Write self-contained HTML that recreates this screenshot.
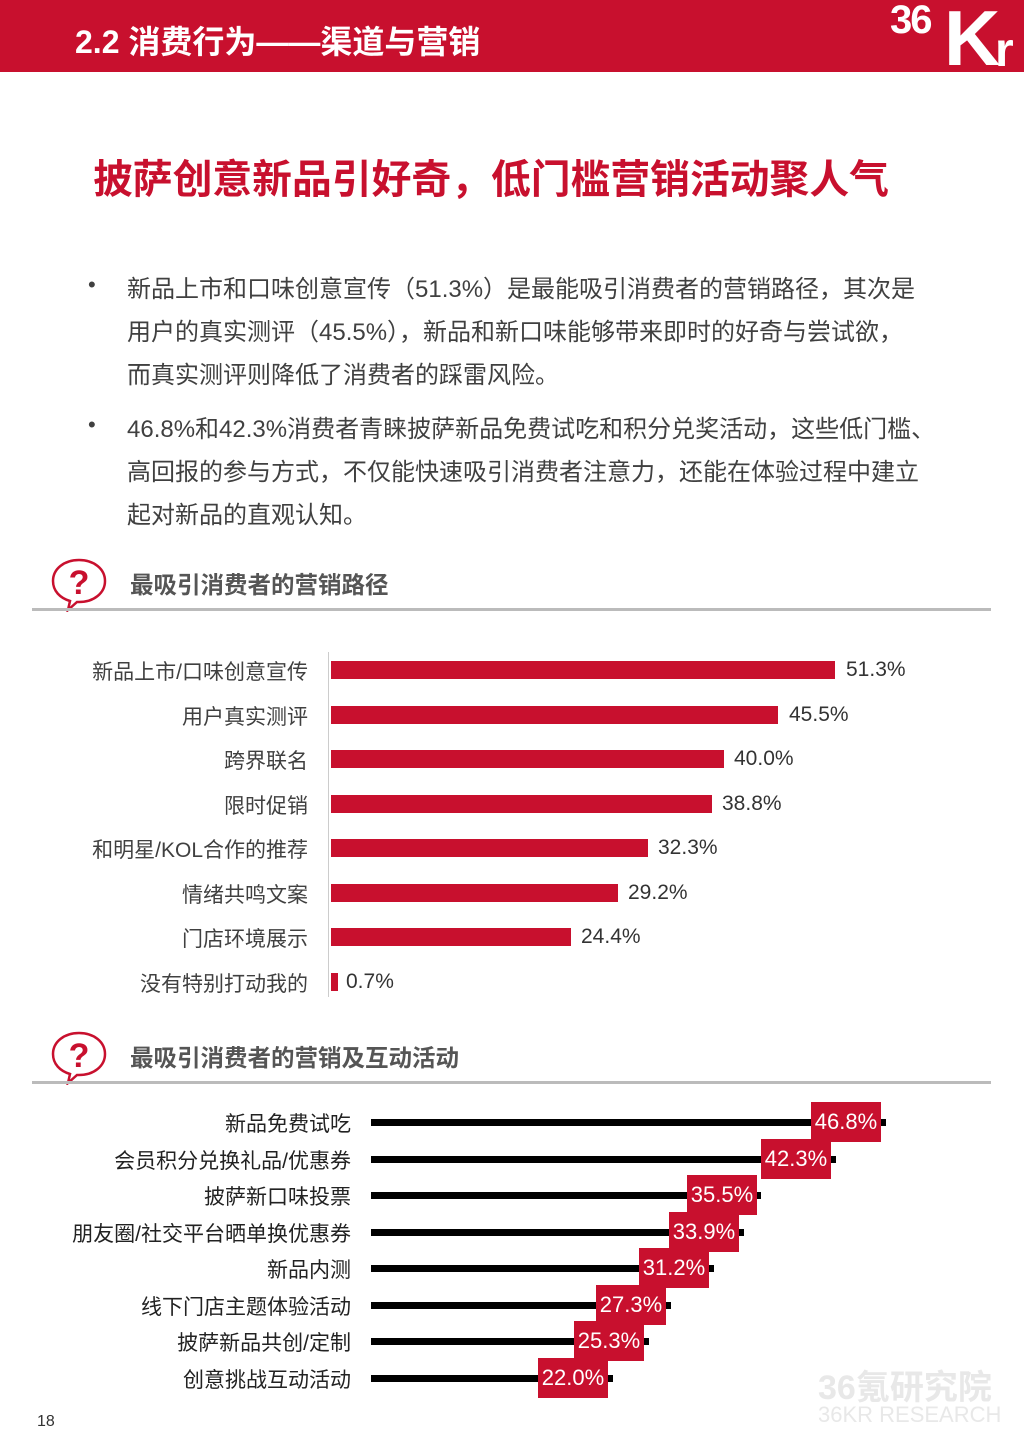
<!DOCTYPE html>
<html><head><meta charset="utf-8"><style>
*{margin:0;padding:0;box-sizing:border-box}
body{width:1024px;height:1449px;background:#fff;position:relative;overflow:hidden;font-family:"Liberation Sans","Noto Sans CJK SC",sans-serif;color:#404040}
.a{position:absolute;white-space:nowrap}
.hdr{left:0;top:0;width:1024px;height:72px;background:#c8102e}
.p{font-size:24px;left:127px;color:#404040}
.lab1{font-size:21px;right:716px;text-align:right;color:#404040}
.bar1{background:#c8102e;height:18px;left:331px}
.v1{font-size:21px;color:#333}
.lab2{font-size:21px;right:673px;text-align:right;color:#222}
.ln{background:#000;height:7px;left:371px}
.box{background:#c8102e;color:#fff;font-size:22px;height:40px;width:70px;line-height:40px;text-align:center}
.sec{font-size:23.5px;font-weight:bold;color:#555;left:130px}
.rule{left:32px;width:959px;height:3px;background:#bbb}
</style></head><body>
<div class="a hdr"></div>
<div class="a" style="left:75px;top:17px;font-size:32px;font-weight:bold;color:#fff">2.2 消费行为——渠道与营销</div>
<div class="a" style="left:890px;top:-2px;font-size:40px;font-weight:bold;color:#fff;letter-spacing:-2px">36</div>
<div class="a" style="left:944px;top:2px;font-size:78px;font-weight:bold;color:#fff;line-height:72px">K</div>
<div class="a" style="left:995px;top:30px;font-size:48px;font-weight:bold;color:#fff;line-height:42px">r</div>
<div class="a" style="left:93px;top:148px;font-size:39.8px;font-weight:bold;color:#c8102e">披萨创意新品引好奇，低门槛营销活动聚人气</div>
<div class="a" style="left:88px;top:272px;font-size:22px">•</div>
<div class="a p" style="top:269px">新品上市和口味创意宣传（51.3%）是最能吸引消费者的营销路径，其次是</div>
<div class="a p" style="top:312px">用户的真实测评（45.5%），新品和新口味能够带来即时的好奇与尝试欲，</div>
<div class="a p" style="top:355px">而真实测评则降低了消费者的踩雷风险。</div>
<div class="a" style="left:88px;top:412px;font-size:22px">•</div>
<div class="a p" style="top:409px">46.8%和42.3%消费者青睐披萨新品免费试吃和积分兑奖活动，这些低门槛、</div>
<div class="a p" style="top:452px">高回报的参与方式，不仅能快速吸引消费者注意力，还能在体验过程中建立</div>
<div class="a p" style="top:495px">起对新品的直观认知。</div>

<svg class="a" style="left:48px;top:556px" width="62" height="56" viewBox="0 0 62 56"><path d="M31 4C16 4 5 13 5 25c0 10 7 17 17 20l-2 9 9-8c1 0 2 0 2 0 15 0 26-9 26-21S46 4 31 4z" fill="#fff" stroke="#c8102e" stroke-width="2.5"/><text x="31" y="38" text-anchor="middle" font-size="34" font-weight="bold" fill="#c8102e" font-family="Liberation Sans">?</text></svg>
<div class="a sec" style="top:566px">最吸引消费者的营销路径</div>
<div class="a rule" style="top:608px"></div>

<div class="a" style="left:328px;top:652px;width:1px;height:345px;background:#ccc"></div>
<div class="a lab1" style="top:656px">新品上市/口味创意宣传</div><div class="a bar1" style="top:661px;width:504px"></div><div class="a v1" style="left:846px;top:658px">51.3%</div>
<div class="a lab1" style="top:701px">用户真实测评</div><div class="a bar1" style="top:706px;width:447px"></div><div class="a v1" style="left:789px;top:703px">45.5%</div>
<div class="a lab1" style="top:745px">跨界联名</div><div class="a bar1" style="top:750px;width:393px"></div><div class="a v1" style="left:734px;top:747px">40.0%</div>
<div class="a lab1" style="top:790px">限时促销</div><div class="a bar1" style="top:795px;width:381px"></div><div class="a v1" style="left:722px;top:792px">38.8%</div>
<div class="a lab1" style="top:834px">和明星/KOL合作的推荐</div><div class="a bar1" style="top:839px;width:317px"></div><div class="a v1" style="left:658px;top:836px">32.3%</div>
<div class="a lab1" style="top:879px">情绪共鸣文案</div><div class="a bar1" style="top:884px;width:287px"></div><div class="a v1" style="left:628px;top:881px">29.2%</div>
<div class="a lab1" style="top:923px">门店环境展示</div><div class="a bar1" style="top:928px;width:240px"></div><div class="a v1" style="left:581px;top:925px">24.4%</div>
<div class="a lab1" style="top:968px">没有特别打动我的</div><div class="a bar1" style="top:973px;width:7px"></div><div class="a v1" style="left:346px;top:970px">0.7%</div>

<svg class="a" style="left:48px;top:1029px" width="62" height="56" viewBox="0 0 62 56"><path d="M31 4C16 4 5 13 5 25c0 10 7 17 17 20l-2 9 9-8c1 0 2 0 2 0 15 0 26-9 26-21S46 4 31 4z" fill="#fff" stroke="#c8102e" stroke-width="2.5"/><text x="31" y="38" text-anchor="middle" font-size="34" font-weight="bold" fill="#c8102e" font-family="Liberation Sans">?</text></svg>
<div class="a sec" style="top:1039px">最吸引消费者的营销及互动活动</div>
<div class="a rule" style="top:1081px"></div>

<div class="a lab2" style="top:1108px">新品免费试吃</div><div class="a ln" style="top:1119px;width:515px"></div><div class="a box" style="left:811px;top:1102px">46.8%</div>
<div class="a lab2" style="top:1145px">会员积分兑换礼品/优惠券</div><div class="a ln" style="top:1156px;width:465px"></div><div class="a box" style="left:761px;top:1139px">42.3%</div>
<div class="a lab2" style="top:1181px">披萨新口味投票</div><div class="a ln" style="top:1192px;width:390px"></div><div class="a box" style="left:687px;top:1175px">35.5%</div>
<div class="a lab2" style="top:1218px">朋友圈/社交平台晒单换优惠券</div><div class="a ln" style="top:1229px;width:373px"></div><div class="a box" style="left:669px;top:1212px">33.9%</div>
<div class="a lab2" style="top:1254px">新品内测</div><div class="a ln" style="top:1265px;width:343px"></div><div class="a box" style="left:639px;top:1248px">31.2%</div>
<div class="a lab2" style="top:1291px">线下门店主题体验活动</div><div class="a ln" style="top:1302px;width:300px"></div><div class="a box" style="left:596px;top:1285px">27.3%</div>
<div class="a lab2" style="top:1327px">披萨新品共创/定制</div><div class="a ln" style="top:1338px;width:278px"></div><div class="a box" style="left:574px;top:1321px">25.3%</div>
<div class="a lab2" style="top:1364px">创意挑战互动活动</div><div class="a ln" style="top:1375px;width:242px"></div><div class="a box" style="left:538px;top:1358px">22.0%</div>

<div class="a" style="left:818px;top:1360px;font-size:34px;font-weight:bold;color:#e8e8e8">36氪研究院</div>
<div class="a" style="left:818px;top:1402px;font-size:22px;color:#e8e8e8">36KR RESEARCH</div>
<div class="a" style="left:37px;top:1413px;font-size:16px;color:#333">18</div>
</body></html>
